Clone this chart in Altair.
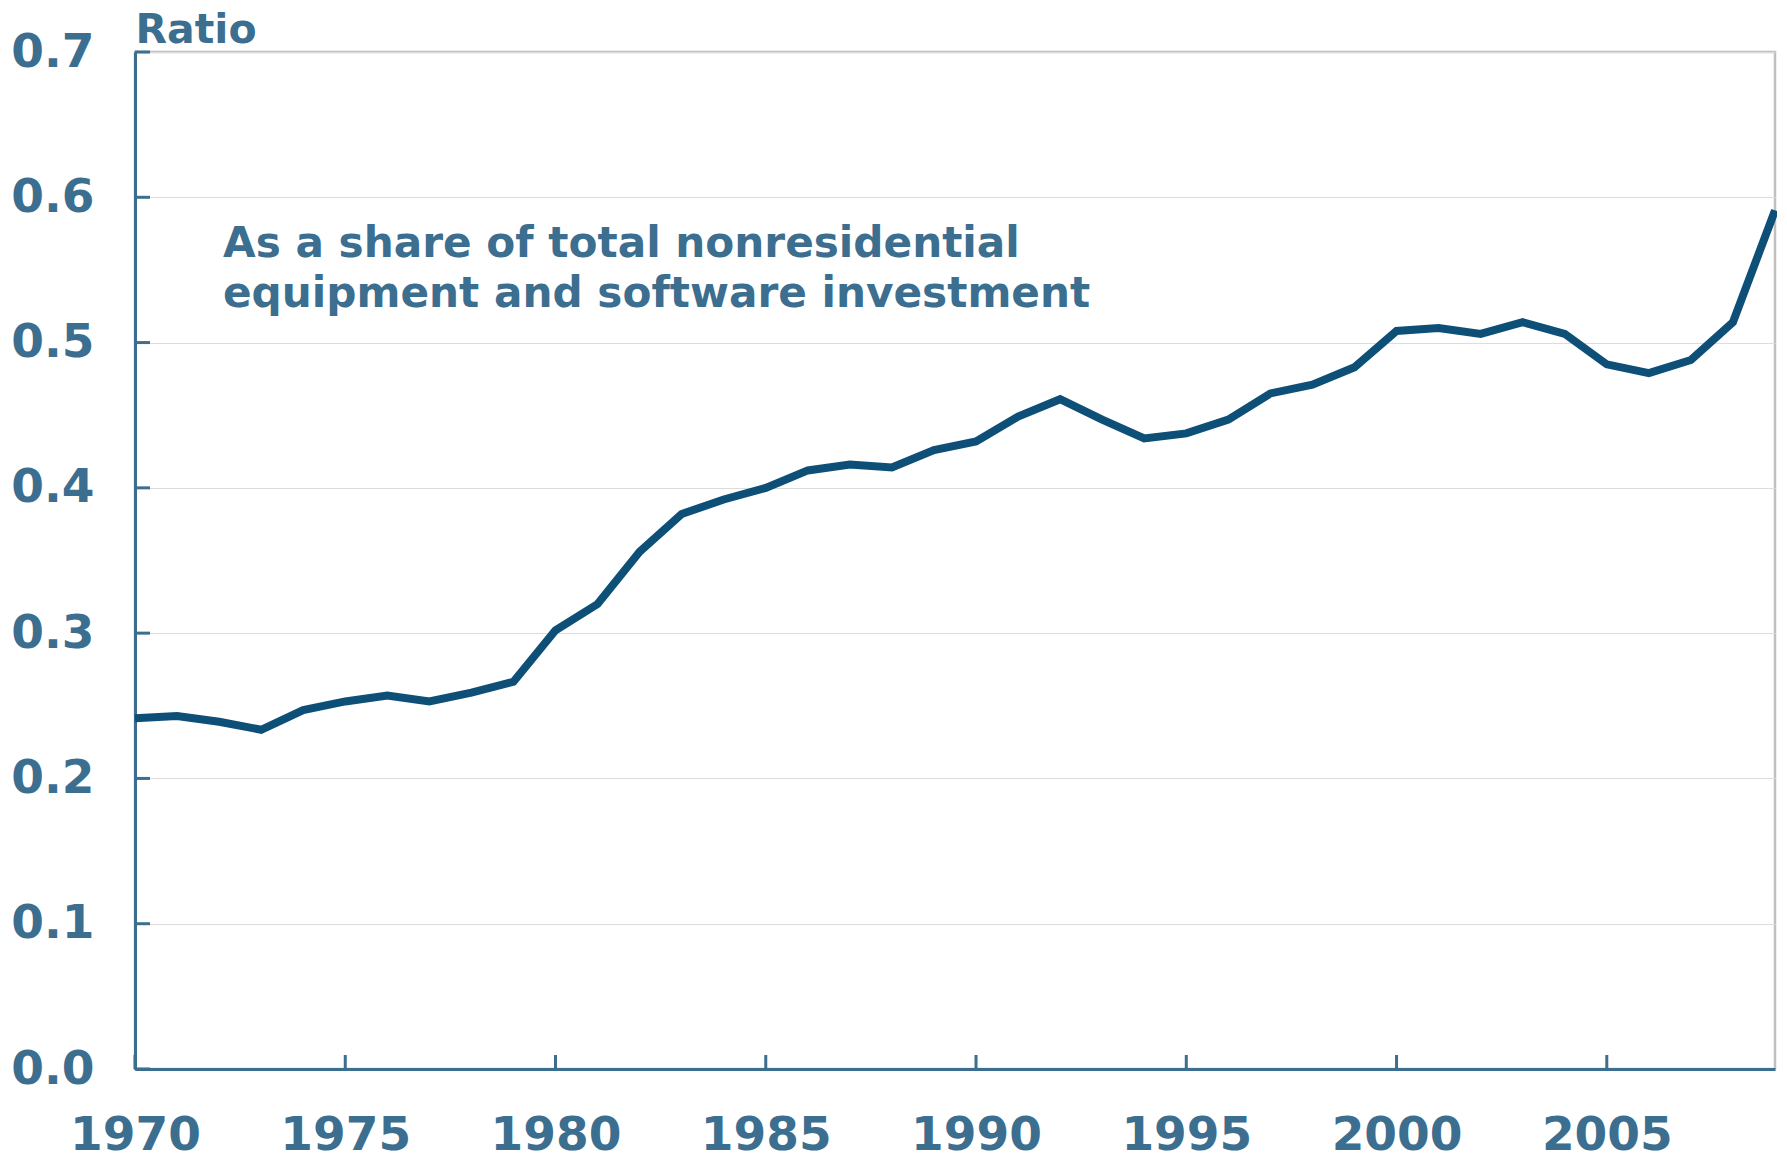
import altair as alt
import pandas as pd

years = list(range(1970, 2010))
ratio = [0.2415, 0.243, 0.239, 0.2335, 0.247, 0.253, 0.257, 0.253, 0.259, 0.2665,
         0.302, 0.320, 0.356, 0.382, 0.392, 0.400, 0.412, 0.416, 0.414, 0.426,
         0.432, 0.449, 0.461, 0.447, 0.434, 0.4375, 0.447, 0.465, 0.471, 0.483,
         0.508, 0.510, 0.506, 0.514, 0.506, 0.485, 0.479, 0.488, 0.514, 0.591]
x_ticks = [1970, 1975, 1980, 1985, 1990, 1995, 2000, 2005]
y_ticks = [0.0, 0.1, 0.2, 0.3, 0.4, 0.5, 0.6, 0.7]
annotation = ["As a share of total nonresidential", "equipment and software investment"]

TXT = "#3b6e8f"
LINE = "#0e4f78"
FONT = "DejaVu Sans"
W, H = 1640, 1017

df = pd.DataFrame({"year": years, "ratio": ratio})
xt = pd.DataFrame({"year": x_ticks})
yt = pd.DataFrame({"ratio": y_ticks})

xscale = alt.Scale(domain=[1970, 2009], nice=False, zero=False)
yscale = alt.Scale(domain=[0, 0.7], nice=False, zero=True)

line = alt.Chart(df).mark_line(color=LINE, strokeWidth=8).encode(
    x=alt.X("year:Q", scale=xscale,
            axis=alt.Axis(values=x_ticks, format="d", title=None, grid=False,
                          ticks=False, labelFontSize=47, labelFont=FONT,
                          labelFontWeight="bold", labelColor=TXT, labelPadding=43,
                          domainColor=TXT, domainWidth=3, labelFlush=False)),
    y=alt.Y("ratio:Q", scale=yscale,
            axis=alt.Axis(values=y_ticks, format=".1f", title="Ratio", grid=True,
                          gridColor="#dcdcdc", gridWidth=1, ticks=False,
                          labelFontSize=47, labelFont=FONT, labelFontWeight="bold",
                          labelColor=TXT, labelPadding=41, labelAlign="right",
                          domainColor=TXT, domainWidth=3,
                          titleFont=FONT, titleFontSize=41, titleFontWeight="bold",
                          titleColor=TXT, titleAngle=0, titleAlign="left",
                          titleBaseline="alphabetic", titleX=0, titleY=-10)),
)

yticks = alt.Chart(yt).mark_rule(color=TXT, strokeWidth=3).encode(
    y=alt.Y("ratio:Q", scale=yscale),
    x=alt.value(0), x2=alt.value(15),
)
xticks = alt.Chart(xt).mark_rule(color=TXT, strokeWidth=3).encode(
    x=alt.X("year:Q", scale=xscale),
    y=alt.value(H), y2=alt.value(H - 14),
)

ann = alt.Chart(pd.DataFrame({"t": [annotation]})).mark_text(
    align="left", baseline="alphabetic", font=FONT, fontSize=42.2,
    fontWeight="bold", color=TXT, lineHeight=50,
).encode(text="t", x=alt.value(88), y=alt.value(205))

chart = alt.layer(line, yticks, xticks, ann).properties(
    width=W, height=H,
    autosize=alt.AutoSizeParams(type="none"),
    padding={"left": 127, "top": 44, "right": 2, "bottom": 96},
).configure_view(stroke="#c0c0c0", strokeWidth=2.5)

chart.save("out.html", embed_options={"renderer": "svg", "actions": False})
